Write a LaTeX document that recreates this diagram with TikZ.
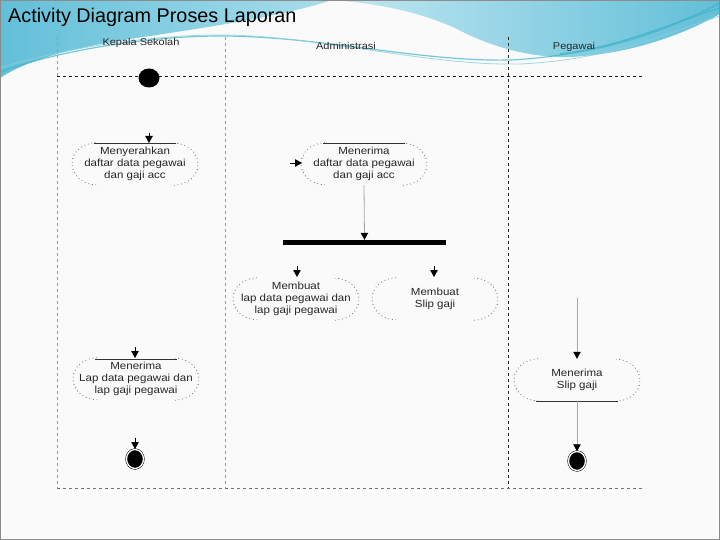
\documentclass[tikz,border=0pt]{standalone}
\usepackage{fontspec}
\setmainfont{Liberation Sans}
\newfontfamily\widesans[FakeStretch=1.12]{Liberation Sans}
\usetikzlibrary{shapes.geometric,arrows.meta,calc}
\definecolor{bgw}{HTML}{FAFAFA}
\definecolor{blueA}{HTML}{62BFD8}
\definecolor{blueB}{HTML}{A9DDEC}
\definecolor{teal1}{HTML}{3FB3C9}
\tikzset{
  act/.style={minimum width=126pt, minimum height=42pt, align=center, inner sep=0pt,
              font=\widesans\fontsize{10.3}{12}\selectfont, text=black!85},
  dotline/.style={draw=black!75, dash pattern=on 0.7pt off 3pt, line width=0.7pt},
  tip/.style={-{Triangle[length=7pt,width=7.5pt,color=black]}, line width=0.8pt},
  flow/.style={tip, draw=black!35},
  stub/.style={tip, draw=black},
  lane/.style={dashed, line width=0.6pt},
  lanelbl/.style={font=\widesans\fontsize{9.8}{11}\selectfont, text=black!85},
}
\begin{document}
\begin{tikzpicture}[x=1pt,y=-1pt]
\useasboundingbox (0,0) rectangle (720,540);
% background
\fill[bgw] (0,0) rectangle (720,540);
\shade[left color=blueA, right color=blueB]
  (0,0) -- (332,0) .. controls (290,14) and (230,24) .. (150,36)
  .. controls (80,46) and (30,58) .. (0,78) -- cycle;
\shade[left color=blueB!70!white, right color=blueA]
  (332,0) -- (720,0) -- (720,14) .. controls (680,36) and (630,54) .. (570,57)
  .. controls (525,58) and (485,44) .. (455,28) .. controls (415,10) and (372,3) .. (332,0) -- cycle;
\draw[teal1, line width=1.2pt, opacity=0.7]
  (0,72) .. controls (60,50) and (150,36) .. (220,36)
  .. controls (320,36) and (420,62) .. (510,60)
  .. controls (600,56) and (660,27) .. (720,8);
\draw[teal1!60!white, line width=0.8pt, opacity=0.8]
  (0,68) .. controls (70,46) and (160,34) .. (230,35)
  .. controls (330,38) and (430,66) .. (520,64)
  .. controls (610,60) and (670,32) .. (720,16);
\draw[teal1, line width=2pt, opacity=0.6]
  (560,54) .. controls (620,48) and (680,24) .. (720,3);
\draw[black!45, line width=0.8pt] (0.4,0.4) rectangle (719.6,539.6);
% title
\node[anchor=base west, inner sep=0pt, font=\fontsize{19.8}{22}\selectfont] (title) at (8,23) {Activity Diagram Proses Laporan};
% lanes
\draw[lane, black!40] (57,37) -- (57,488);
\draw[lane, black!40] (225,37) -- (225,488);
\draw[lane, black!85] (508,37) -- (508,488);
\draw[lane, black!90] (57,76) -- (645,76);
\draw[lane, black!55] (57,488) -- (645,488);
\node[lanelbl] (l1) at (141,43) {Kepala Sekolah};
\node[lanelbl] (l2) at (346,46) {Administrasi};
\node[lanelbl] (l3) at (574,47) {Pegawai};
% nodes
\node[ellipse, fill=black, minimum width=21pt, minimum height=19pt, inner sep=0pt] (start) at (149,78) {};
\node[act] (a1) at (135,164) {Menyerahkan\\daftar data pegawai\\dan gaji acc};
\node[act] (a2) at (364,164) {Menerima\\daftar data pegawai\\dan gaji acc};
\node[fill=black, minimum width=163pt, minimum height=5pt, inner sep=0pt] (bar) at (364.5,242.5) {};
\node[act] (a3) at (296,299) {Membuat\\lap data pegawai dan\\lap gaji pegawai};
\node[act] (a4) at (435,299) {Membuat\\Slip gaji};
\node[act] (a5) at (136,379) {Menerima\\Lap data pegawai dan\\lap gaji pegawai};
\node[act] (a6) at (577,380) {Menerima\\Slip gaji};
\node[ellipse, fill=black, draw=black, double=white, double distance=1.3pt, line width=0.5pt,
      minimum width=17pt, minimum height=19pt, inner sep=0pt] (end1) at (135,459) {};
\node[ellipse, fill=black, draw=black, double=white, double distance=1.3pt, line width=0.5pt,
      minimum width=17pt, minimum height=19pt, inner sep=0pt] (end2) at (577,461) {};
% dotted rounded ends
\foreach \n in {a1,a2,a3,a4,a5,a6}{
  \draw[dotline] ($(\n.north)+(-39,0)$) arc[start angle=90, end angle=270, x radius=24pt, y radius=21pt];
  \draw[dotline] ($(\n.south)+(39,0)$) arc[start angle=-90, end angle=90, x radius=24pt, y radius=21pt];
}
% solid bars on activities
\draw[black!80, line width=0.6pt] ($(a1.north)+(-41,1)$) -- ($(a1.north)+(41,1)$);
\draw[black!80, line width=0.6pt] ($(a2.north)+(-41,1)$) -- ($(a2.north)+(41,1)$);
\draw[black!80, line width=0.6pt] ($(a5.north)+(-41,1)$) -- ($(a5.north)+(41,1)$);
\draw[black!80, line width=0.6pt] ($(a6.south)+(-41,0)$) -- ($(a6.south)+(41,0)$);
% arrow stubs
\coordinate (s1) at (149,133);
\coordinate (t1) at (149,143);
\draw[stub] (s1) -- (t1);
\coordinate (s2) at (290,163);
\coordinate (t2) at (302,163);
\draw[stub] (s2) -- (t2);
\draw[flow] (a2.south) -- (bar.north);
\coordinate (s3) at (297,266);
\coordinate (t3) at (297,277);
\draw[stub] (s3) -- (t3);
\coordinate (s4) at (434,266);
\coordinate (t4) at (434,277);
\draw[stub] (s4) -- (t4);
\coordinate (s5) at (135,347);
\coordinate (t5) at (135,358);
\draw[stub] (s5) -- (t5);
\coordinate (s6) at (135,438);
\coordinate (t6) at (135,449);
\draw[stub] (s6) -- (t6);
\coordinate (s7) at (577,298);
\draw[flow] (s7) -- (a6.north);
\draw[flow] (a6.south) -- (end2.north);
\end{tikzpicture}
\end{document}
